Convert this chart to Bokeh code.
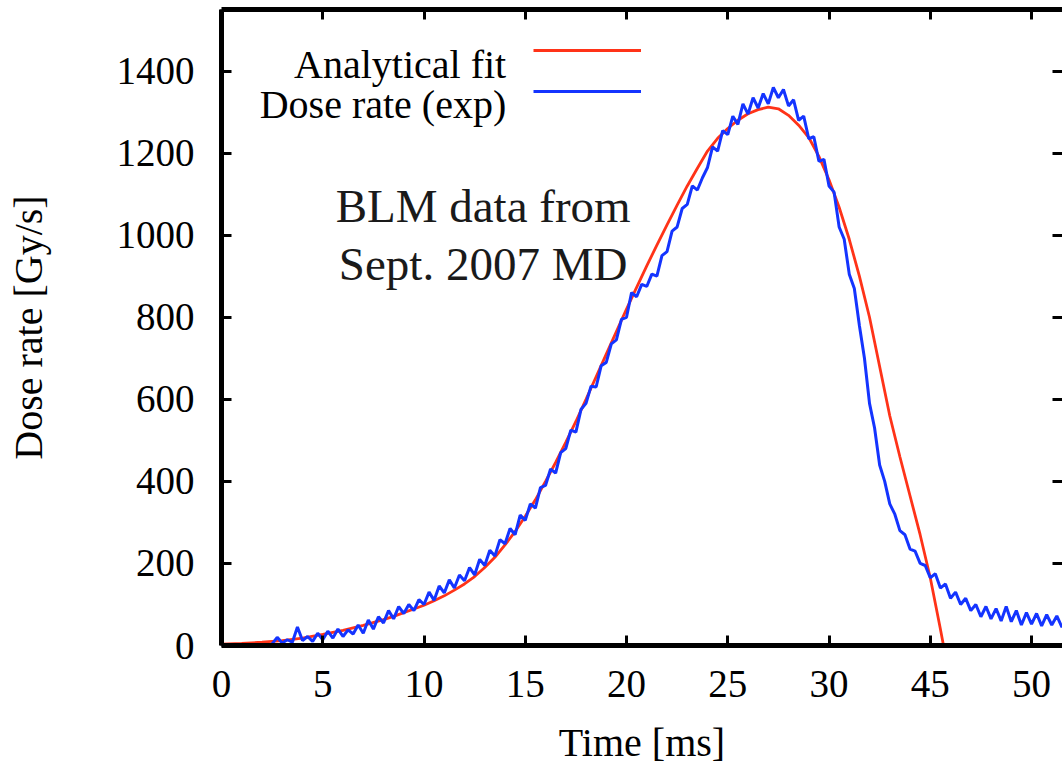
from bokeh.plotting import figure
from bokeh.models import (Range1d, LinearAxis, FixedTicker, Legend, LegendItem,
                          Label)
from bokeh.embed import file_html
from bokeh.resources import INLINE
import numpy as np

FONT = "Liberation Serif"

# ---- axes ----
x_ticks = [0, 5, 10, 15, 20, 25, 30, 35, 40]
x_tick_labels = ["0", "5", "10", "15", "20", "25", "30", "45", "50"]
y_ticks = [0, 200, 400, 600, 800, 1000, 1200, 1400]
x_title = "Time [ms]"
y_title = "Dose rate [Gy/s]"

# ---- analytical fit (red) ----
fit_time = [0, 1, 2, 3, 4, 5, 6, 7, 8, 8.5, 9, 9.5, 10, 10.5, 11, 11.5, 12,
            12.5, 13, 13.5, 14, 14.5, 15, 15.5, 16, 16.5, 17, 17.5, 18, 18.5,
            19, 19.5, 20, 20.5, 21, 21.5, 22, 22.5, 23, 23.5, 24, 24.5, 25,
            25.5, 26, 26.5, 27, 27.5, 28, 28.5, 29, 29.5, 30, 30.5, 31, 31.5,
            32, 32.5, 33, 33.5, 34, 34.5, 35, 35.5, 36]
fit_rate = [3, 5, 8, 12, 18, 27, 37, 49, 63, 71, 80, 89, 98, 109, 121, 135,
            150, 168, 190, 215, 245, 278, 315, 355, 400, 446, 495, 546, 600,
            655, 710, 765, 820, 873, 925, 976, 1025, 1073, 1120, 1163, 1205,
            1236, 1260, 1280, 1296, 1306, 1312, 1308, 1292, 1268, 1238, 1192,
            1135, 1068, 990, 900, 800, 680, 560, 460, 365, 270, 165, 40, -90]

# ---- measured dose rate (blue), sampled every 0.25 ms from 2.5 ms ----
exp_time = np.arange(2.5, 41.76, 0.25)
exp_rate = [4, 20, 6, 14, 8, 45, 12, 22,
            10, 30, 14, 35, 18, 40, 22, 38,
            28, 50, 30, 62, 40, 70, 55, 85,
            65, 95, 78, 100, 85, 112, 100, 130,
            110, 145, 128, 160, 140, 172, 158, 190,
            172, 210, 195, 232, 218, 258, 248, 285,
            270, 318, 305, 345, 335, 385, 390, 430,
            420, 470, 480, 525, 520, 575, 590, 632,
            630, 682, 690, 735, 745, 795, 800, 860,
            850, 880, 875, 905, 900, 950, 960, 1010,
            1020, 1065, 1075, 1120, 1110, 1140, 1165, 1215,
            1205, 1255, 1245, 1290, 1270, 1320, 1295, 1335,
            1310, 1345, 1320, 1360, 1335, 1355, 1315, 1330,
            1280, 1290, 1235, 1240, 1180, 1185, 1120, 1105,
            1020, 990, 905, 870, 780, 700, 590, 530,
            440, 400, 345, 320, 280, 270, 235, 230,
            200, 195, 165, 175, 140, 150, 115, 130,
            100, 115, 85, 100, 70, 95, 65, 90,
            60, 95, 58, 85, 50, 80, 52, 78,
            48, 75, 50, 72, 45, 60]

legend_labels = ["Analytical fit", "Dose rate (exp)"]
note_lines = ["BLM data from", "Sept. 2007 MD"]

X_END = 41.53
Y_END = 1550

RED = "#ff3318"
BLUE = "#1434ff"

p = figure(width=1062, height=769,
           x_range=Range1d(0, X_END), y_range=Range1d(0, Y_END),
           output_backend="svg", toolbar_location=None,
           min_border_left=221, min_border_right=0,
           min_border_top=9, min_border_bottom=124)
p.outline_line_color = None
p.xgrid.visible = False
p.ygrid.visible = False
p.background_fill_color = "white"
p.border_fill_color = "white"

xa = p.xaxis[0]
ya = p.yaxis[0]
xa.ticker = FixedTicker(ticks=x_ticks)
xa.major_label_overrides = {t: l for t, l in zip(x_ticks, x_tick_labels)}
ya.ticker = FixedTicker(ticks=y_ticks)

for ax in (xa, ya):
    ax.axis_line_width = 5
    ax.axis_line_color = "black"
    ax.major_tick_in = 10
    ax.major_tick_out = 0
    ax.major_tick_line_width = 3
    ax.major_tick_line_color = "black"
    ax.minor_tick_line_color = None
    ax.major_label_text_font = FONT
    ax.major_label_text_font_size = "39px"
    ax.major_label_text_color = "black"
    ax.axis_label_text_font = FONT
    ax.axis_label_text_font_size = "40px"
    ax.axis_label_text_font_style = "normal"
    ax.axis_label_text_color = "black"

xa.major_label_standoff = 25
ya.major_label_standoff = 27
ya.axis_label = y_title
ya.axis_label_standoff = 63
xa.axis_label = x_title
xa.axis_label_standoff = 20

# mirrored tick axes (top and right), no labels
top_ax = LinearAxis(ticker=FixedTicker(ticks=x_ticks),
                    major_label_overrides={t: "" for t in x_ticks},
                    major_label_text_font_size="1px", major_label_standoff=0,
                    major_tick_in=10, major_tick_out=0, major_tick_line_width=3,
                    axis_line_width=5, axis_line_color="black",
                    minor_tick_line_color=None)
p.add_layout(top_ax, "above")
right_ax = LinearAxis(ticker=FixedTicker(ticks=y_ticks),
                      major_label_overrides={t: "" for t in y_ticks},
                      major_label_text_font_size="1px", major_label_standoff=0,
                      major_tick_in=10, major_tick_out=0, major_tick_line_width=3,
                      axis_line_color=None, minor_tick_line_color=None)
p.add_layout(right_ax, "right")

fit_r = p.line(fit_time, fit_rate, line_color=RED, line_width=2.8)
exp_r = p.line(exp_time, exp_rate, line_color=BLUE, line_width=3)

legend = Legend(items=[LegendItem(label="", renderers=[fit_r]),
                       LegendItem(label="", renderers=[exp_r])],
                location=(312, 534), glyph_width=108, glyph_height=40,
                label_width=0, label_standoff=0, label_height=40,
                spacing=1, padding=0, margin=0,
                border_line_color=None, background_fill_alpha=0)
p.add_layout(legend)

for txt, yy in zip(legend_labels, [1417, 1318]):
    p.add_layout(Label(x=14.06, y=yy, text=txt, text_align="right",
                       text_baseline="alphabetic", text_font=FONT,
                       text_font_size="40px", text_color="black"))

for txt, yy in zip(note_lines, [1070, 930]):
    p.add_layout(Label(x=12.92, y=yy, text=txt, text_align="center",
                       text_baseline="alphabetic", text_font=FONT,
                       text_font_size="47px", text_color="#1a1a1a"))

open("out.html", "w").write(file_html(p, INLINE))
